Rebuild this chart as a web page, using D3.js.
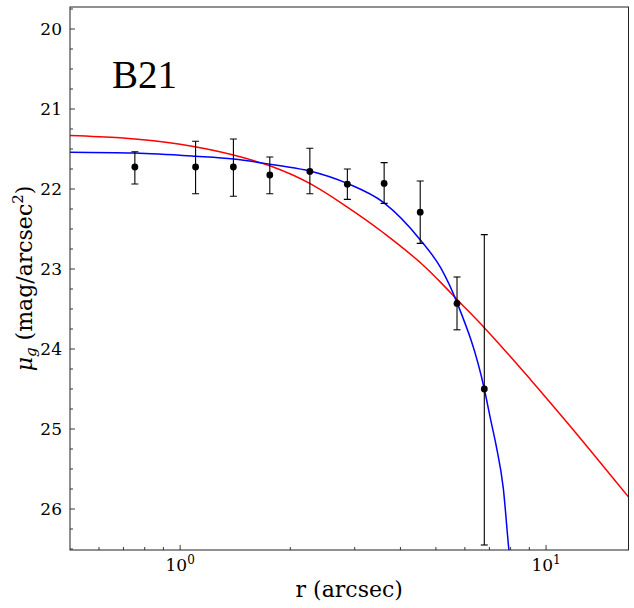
<!DOCTYPE html>
<html>
<head>
<meta charset="utf-8">
<script src="https://cdn.jsdelivr.net/npm/d3@7"></script>
<style>
  body { margin: 0; background: #fff; }
  text { font-family: "DejaVu Serif", serif; fill: #000; }
</style>
</head>
<body>
<script>
// data
var radius   = [0.752, 1.102, 1.398, 1.758, 2.262, 2.864, 3.61, 4.53, 5.71, 6.78];
var mu       = [21.725, 21.725, 21.725, 21.825, 21.78, 21.94, 21.93, 22.29, 23.43, 24.50];
var muUpper  = [21.534, 21.404, 21.375, 21.60, 21.49, 21.75, 21.67, 21.90, 23.10, 22.57];
var muLower  = [21.937, 22.06, 22.09, 22.06, 22.06, 22.13, 22.18, 22.68, 23.76, 26.45];

var redR   = [0.5, 0.685, 1.0, 1.398, 1.758, 2.26, 2.85, 3.6, 4.71, 5.16, 5.71, 6.77, 9.06, 11.28, 16.8];
var redMu  = [21.33, 21.36, 21.44, 21.575, 21.71, 21.93, 22.22, 22.55, 22.99, 23.17, 23.38, 23.73, 24.38, 24.89, 25.85];
var blueR  = [0.5, 0.75, 1.10, 1.40, 1.88, 2.26, 2.86, 3.6, 4.54, 5.16, 5.71, 6.78, 7.06, 7.30, 7.64, 7.91, 7.97];
var blueMu = [21.54, 21.55, 21.59, 21.625, 21.71, 21.775, 21.93, 22.17, 22.64, 22.99, 23.42, 24.50, 24.89, 25.20, 25.74, 26.5, 26.65];

var yTicks = [20, 21, 22, 23, 24, 25, 26];
var xTicks = [1, 10];
var galaxyName = "B21";

var W = 634, H = 608;
var pLeft = 70, pRight = 628.5, pTop = 7, pBottom = 550;

var svg = d3.select("body")
  .append("svg")
  .attr("width", W)
  .attr("height", H);

var x = d3.scaleLog().domain([0.5, 16.8]).range([pLeft, pRight]);
var y = d3.scaleLinear().domain([19.725, 26.5125]).range([pTop, pBottom]);

svg.append("clipPath")
  .attr("id", "plotclip")
  .append("rect")
  .attr("x", pLeft)
  .attr("y", pTop)
  .attr("width", pRight - pLeft)
  .attr("height", pBottom - pTop);

//
// model curves
//
var line = d3.line()
  .x(function(d) { return x(d[0]); })
  .y(function(d) { return y(d[1]); })
  .curve(d3.curveMonotoneX);

addCurve = function(rs, ms, colour) {
  svg.append("path")
    .datum(d3.zip(rs, ms))
    .attr("d", line)
    .attr("fill", "none")
    .attr("stroke", colour)
    .attr("stroke-width", 1.5)
    .attr("clip-path", "url(#plotclip)");
}
addCurve(redR, redMu, "#ff0000");
addCurve(blueR, blueMu, "#0000ff");

//
// data points with error bars
//
var pts = svg.append("g").attr("clip-path", "url(#plotclip)");
var cap = 3.5;
radius.forEach(function(r, i) {
  var px = x(r);
  pts.append("line")
    .attr("x1", px).attr("x2", px)
    .attr("y1", y(muUpper[i])).attr("y2", y(muLower[i]))
    .attr("stroke", "#000").attr("stroke-width", 1.1);
  [muUpper[i], muLower[i]].forEach(function(m) {
    pts.append("line")
      .attr("x1", px - cap).attr("x2", px + cap)
      .attr("y1", y(m)).attr("y2", y(m))
      .attr("stroke", "#000").attr("stroke-width", 1.1);
  });
  pts.append("circle")
    .attr("cx", px)
    .attr("cy", y(mu[i]))
    .attr("r", 3.4)
    .attr("fill", "#000");
});

//
// axes (ticks inward, left and bottom only)
//
var yAxis = svg.append("g");
d3.range(19.75, 26.51, 0.25).forEach(function(v) {
  var major = Math.abs(v - Math.round(v)) < 1e-6;
  yAxis.append("line")
    .attr("x1", pLeft).attr("x2", pLeft + (major ? 5 : 3))
    .attr("y1", y(v)).attr("y2", y(v))
    .attr("stroke", "#222").attr("stroke-width", 0.9);
});
yTicks.forEach(function(v) {
  yAxis.append("text")
    .attr("x", pLeft - 8)
    .attr("y", y(v))
    .attr("dy", "0.36em")
    .attr("text-anchor", "end")
    .attr("font-size", 17)
    .text(v);
});

var xAxis = svg.append("g");
var minor = [0.6, 0.7, 0.8, 0.9, 2, 3, 4, 5, 6, 7, 8, 9];
minor.forEach(function(v) {
  xAxis.append("line")
    .attr("x1", x(v)).attr("x2", x(v))
    .attr("y1", pBottom).attr("y2", pBottom - 3)
    .attr("stroke", "#222").attr("stroke-width", 0.9);
});
xTicks.forEach(function(v) {
  xAxis.append("line")
    .attr("x1", x(v)).attr("x2", x(v))
    .attr("y1", pBottom).attr("y2", pBottom - 5)
    .attr("stroke", "#222").attr("stroke-width", 0.9);
  var t = xAxis.append("text")
    .attr("x", x(v))
    .attr("y", 570.5)
    .attr("text-anchor", "middle")
    .attr("font-size", 17);
  t.append("tspan").text("10");
  t.append("tspan")
    .attr("font-size", 12)
    .attr("dy", -7)
    .text(Math.round(Math.log10(v)));
});

// frame
svg.append("rect")
  .attr("x", pLeft).attr("y", pTop)
  .attr("width", pRight - pLeft).attr("height", pBottom - pTop)
  .attr("fill", "none")
  .attr("stroke", "#222")
  .attr("stroke-width", 1);

//
// labels
//
svg.append("text")
  .attr("x", (pLeft + pRight) / 2)
  .attr("y", 597)
  .attr("text-anchor", "middle")
  .attr("font-size", 22)
  .text("r (arcsec)");

var yl = svg.append("text")
  .attr("transform", "translate(32," + ((pTop + pBottom) / 2) + ") rotate(-90)")
  .attr("text-anchor", "middle")
  .attr("font-size", 22);
yl.append("tspan").attr("font-style", "italic").text("μ");
yl.append("tspan").attr("font-style", "italic").attr("font-size", 15).attr("dy", 4).text("g");
yl.append("tspan").attr("dy", -4).text(" (mag/arcsec");
yl.append("tspan").attr("font-size", 15).attr("dy", -9).text("2");
yl.append("tspan").attr("dy", 9).text(")");

svg.append("text")
  .attr("x", 112)
  .attr("y", 88)
  .attr("font-size", 39)
  .style("font-family", "'Liberation Serif', serif")
  .text(galaxyName);
</script>
</body>
</html>
